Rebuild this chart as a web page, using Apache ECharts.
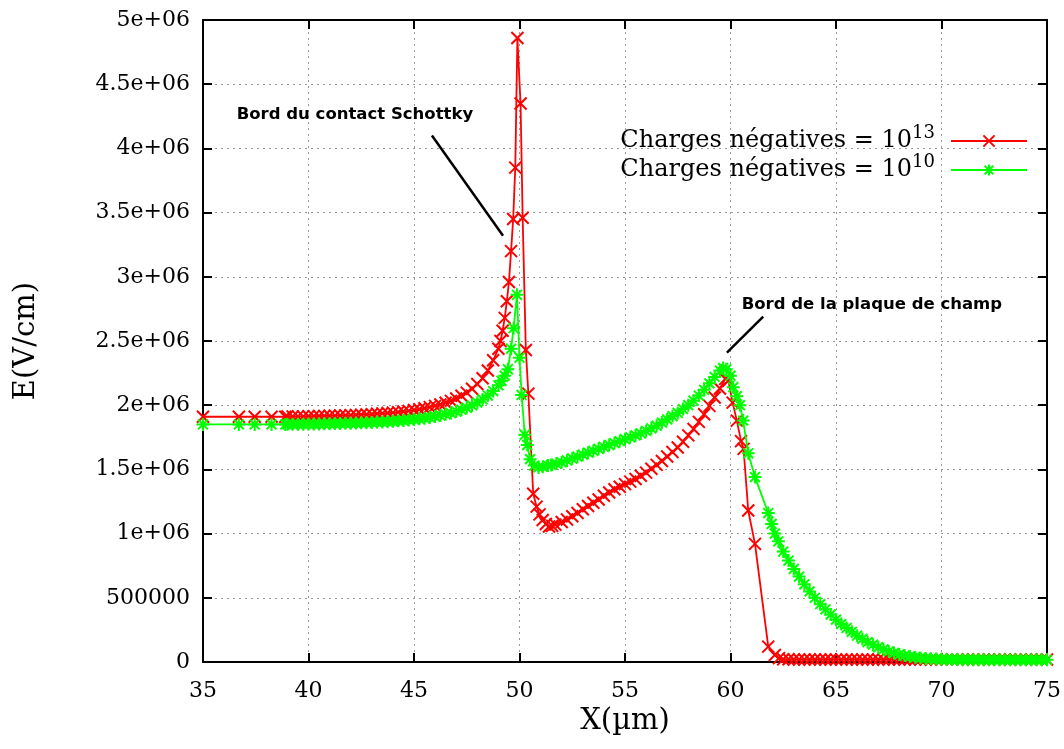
<!DOCTYPE html>
<html>
<head>
<meta charset="utf-8">
<script src="https://cdn.jsdelivr.net/npm/echarts@6/dist/echarts.min.js"></script>
<style>html,body{margin:0;padding:0;background:#fff}#c{width:1064px;height:749px}</style>
</head>
<body>
<div id="c"></div>
<script>
// ---------------- data ----------------
const xTicks = [35, 40, 45, 50, 55, 60, 65, 70, 75];
const yTickLabels = ['0','500000','1e+06','1.5e+06','2e+06','2.5e+06','3e+06','3.5e+06','4e+06','4.5e+06','5e+06'];
const seriesNames = ['Charges négatives = 10^13', 'Charges négatives = 10^10'];

const xRed = [35, 36.7, 37.45, 38.25, 38.9,
  39.0, 39.25, 39.5, 39.75, 40.0, 40.25, 40.5, 40.75, 41.0, 41.25, 41.5, 41.75, 42.0, 42.25, 42.5, 42.75,
  43.0, 43.25, 43.5, 43.75, 44.0, 44.25, 44.5, 44.75, 45.0, 45.25, 45.5, 45.75, 46.0, 46.25, 46.5, 46.75,
  47.0, 47.25, 47.5, 47.75, 48.0, 48.25, 48.5, 48.75, 49.0,
  49.1, 49.2, 49.3, 49.4, 49.5, 49.6, 49.7, 49.8, 49.9, 50.05, 50.15, 50.3, 50.42, 50.65, 50.81, 50.95,
  51.1, 51.25, 51.4, 51.55, 51.7,
  52.0, 52.25, 52.5, 52.75, 53.0, 53.25, 53.5, 53.75, 54.0, 54.25, 54.5, 54.75, 55.0, 55.25, 55.5, 55.75,
  56.0, 56.25, 56.5, 56.75, 57.0, 57.25, 57.5, 57.75, 58.0, 58.25, 58.5, 58.75, 59.0, 59.25, 59.5, 59.75,
  59.9, 60.1, 60.3, 60.5, 60.62, 60.84, 61.16, 61.79, 62.1, 62.3,
  62.5, 62.75, 63.0, 63.25, 63.5, 63.75, 64.0, 64.25, 64.5, 64.75, 65.0, 65.25, 65.5, 65.75,
  66.0, 66.25, 66.5, 66.75, 67.0, 67.25, 67.5, 67.75, 68.0, 68.25, 68.5, 68.75, 69.0, 69.25, 69.5, 69.75,
  70.0, 70.25, 70.5, 70.75, 71.0, 71.25, 71.5, 71.75, 72.0, 72.25, 72.5, 72.75, 73.0, 73.25, 73.5, 73.75,
  74.0, 74.25, 74.5, 74.75, 75.0];
const yRed = [1.91e6, 1.91e6, 1.91e6, 1.91e6, 1.91e6,
  1.912e6, 1.912e6, 1.913e6, 1.913e6, 1.914e6, 1.915e6, 1.916e6, 1.917e6, 1.918e6, 1.919e6, 1.920e6, 1.921e6, 1.923e6, 1.924e6, 1.926e6, 1.928e6,
  1.930e6, 1.933e6, 1.936e6, 1.939e6, 1.942e6, 1.946e6, 1.951e6, 1.956e6, 1.962e6, 1.968e6, 1.976e6, 1.985e6, 1.995e6, 2.006e6, 2.019e6, 2.034e6,
  2.052e6, 2.073e6, 2.098e6, 2.128e6, 2.165e6, 2.21e6, 2.27e6, 2.35e6, 2.44e6,
  2.50e6, 2.58e6, 2.68e6, 2.81e6, 2.96e6, 3.20e6, 3.45e6, 3.85e6, 4.86e6, 4.35e6, 3.46e6, 2.43e6, 2.09e6, 1.31e6, 1.21e6, 1.15e6,
  1.106e6, 1.075e6, 1.055e6, 1.06e6, 1.07e6,
  1.09e6, 1.11e6, 1.135e6, 1.16e6, 1.19e6, 1.215e6, 1.24e6, 1.265e6, 1.295e6, 1.32e6, 1.345e6, 1.365e6, 1.385e6, 1.405e6, 1.425e6, 1.45e6,
  1.475e6, 1.505e6, 1.535e6, 1.565e6, 1.60e6, 1.635e6, 1.67e6, 1.715e6, 1.765e6, 1.815e6, 1.87e6, 1.93e6, 1.995e6, 2.06e6, 2.13e6, 2.205e6,
  2.19e6, 2.02e6, 1.88e6, 1.72e6, 1.66e6, 1.18e6, 0.92e6, 0.12e6, 0.055e6, 0.03e6,
  0.022e6, 0.021e6, 0.02e6, 0.02e6, 0.02e6, 0.02e6, 0.02e6, 0.02e6, 0.02e6, 0.02e6, 0.02e6, 0.02e6, 0.02e6, 0.02e6,
  0.02e6, 0.02e6, 0.02e6, 0.02e6, 0.02e6, 0.02e6, 0.02e6, 0.02e6, 0.02e6, 0.02e6, 0.02e6, 0.02e6, 0.02e6, 0.02e6, 0.02e6, 0.02e6,
  0.02e6, 0.02e6, 0.02e6, 0.02e6, 0.02e6, 0.02e6, 0.02e6, 0.02e6, 0.02e6, 0.02e6, 0.02e6, 0.02e6, 0.02e6, 0.02e6, 0.02e6, 0.02e6,
  0.02e6, 0.02e6, 0.02e6, 0.02e6, 0.02e6];

const xGreen = [35, 36.7, 37.45, 38.25, 38.9,
  39.0, 39.25, 39.5, 39.75, 40.0, 40.25, 40.5, 40.75, 41.0, 41.25, 41.5, 41.75, 42.0, 42.25, 42.5, 42.75,
  43.0, 43.25, 43.5, 43.75, 44.0, 44.25, 44.5, 44.75, 45.0, 45.25, 45.5, 45.75, 46.0, 46.25, 46.5, 46.75,
  47.0, 47.25, 47.5, 47.75, 48.0, 48.25, 48.5, 48.75, 49.0,
  49.15, 49.3, 49.45, 49.6, 49.72, 49.88, 50.0, 50.1, 50.25, 50.37, 50.5, 50.7, 50.9, 51.1, 51.35,
  51.5, 51.75, 52.0, 52.25, 52.5, 52.75, 53.0, 53.25, 53.5, 53.75, 54.0, 54.25, 54.5, 54.75, 55.0, 55.25,
  55.5, 55.75, 56.0, 56.25, 56.5, 56.75, 57.0, 57.25, 57.5, 57.75, 58.0, 58.25, 58.5, 58.75, 59.0, 59.25,
  59.5, 59.65, 59.8, 60.0, 60.13, 60.3, 60.45, 60.6, 60.84, 61.16, 61.79, 61.95, 62.1, 62.27,
  62.5, 62.75, 63.0, 63.25, 63.5, 63.75, 64.0, 64.25, 64.5, 64.75, 65.0, 65.25, 65.5, 65.75,
  66.0, 66.25, 66.5, 66.75, 67.0, 67.25, 67.5, 67.75, 68.0, 68.25, 68.5, 68.75, 69.0, 69.25, 69.5, 69.75,
  70.0, 70.25, 70.5, 70.75, 71.0, 71.25, 71.5, 71.75, 72.0, 72.25, 72.5, 72.75, 73.0, 73.25, 73.5, 73.75,
  74.0, 74.25, 74.5, 74.75, 75.0];
const yGreen = [1.85e6, 1.85e6, 1.85e6, 1.85e6, 1.85e6,
  1.851e6, 1.851e6, 1.852e6, 1.852e6, 1.853e6, 1.853e6, 1.854e6, 1.855e6, 1.856e6, 1.857e6, 1.858e6, 1.859e6, 1.860e6, 1.861e6, 1.863e6, 1.864e6,
  1.866e6, 1.868e6, 1.870e6, 1.872e6, 1.875e6, 1.878e6, 1.881e6, 1.885e6, 1.889e6, 1.894e6, 1.899e6, 1.905e6, 1.912e6, 1.920e6, 1.929e6, 1.939e6,
  1.951e6, 1.965e6, 1.98e6, 1.998e6, 2.02e6, 2.045e6, 2.075e6, 2.11e6, 2.155e6,
  2.19e6, 2.23e6, 2.28e6, 2.44e6, 2.6e6, 2.86e6, 2.37e6, 2.08e6, 1.77e6, 1.69e6, 1.58e6, 1.53e6, 1.515e6, 1.52e6, 1.53e6,
  1.535e6, 1.545e6, 1.555e6, 1.57e6, 1.585e6, 1.60e6, 1.615e6, 1.63e6, 1.645e6, 1.66e6, 1.675e6, 1.69e6, 1.705e6, 1.72e6, 1.735e6, 1.75e6,
  1.765e6, 1.78e6, 1.80e6, 1.82e6, 1.84e6, 1.865e6, 1.89e6, 1.915e6, 1.94e6, 1.97e6, 2.0e6, 2.035e6, 2.075e6, 2.12e6, 2.17e6, 2.22e6,
  2.27e6, 2.29e6, 2.28e6, 2.23e6, 2.14e6, 2.07e6, 2.0e6, 1.88e6, 1.625e6, 1.44e6, 1.16e6, 1.075e6, 1.0e6, 0.94e6,
  0.86e6, 0.79e6, 0.725e6, 0.665e6, 0.605e6, 0.55e6, 0.50e6, 0.45e6, 0.41e6, 0.37e6, 0.33e6, 0.295e6, 0.265e6, 0.235e6,
  0.205e6, 0.18e6, 0.155e6, 0.135e6, 0.115e6, 0.098e6, 0.083e6, 0.07e6, 0.059e6, 0.05e6, 0.043e6, 0.037e6, 0.032e6, 0.028e6, 0.025e6, 0.023e6,
  0.021e6, 0.02e6, 0.019e6, 0.019e6, 0.018e6, 0.018e6, 0.018e6, 0.018e6, 0.017e6, 0.017e6, 0.017e6, 0.017e6, 0.017e6, 0.017e6, 0.017e6, 0.017e6,
  0.017e6, 0.017e6, 0.017e6, 0.017e6, 0.017e6];

// annotations (data coordinates)
const annotSchottky = {text: 'Bord du contact Schottky', at: [42.2, 4.265e6], from: [45.85, 4.1e6], to: [49.22, 3.32e6]};
const annotPlaque = {text: 'Bord de la plaque de champ', at: [66.7, 2.785e6], from: [61.55, 2.69e6], to: [59.83, 2.41e6]};

// ---------------- chart ----------------
const SERIF = '"DejaVu Serif", "Liberation Serif", serif';
const pairs = (xs, ys) => xs.map((x, i) => [x, ys[i]]);
const CROSS = 'path://M0 0L10 10M10 0L0 10';
const STAR = 'path://M5 0L5 10M0 5L10 5M1.2 1.2L8.8 8.8M8.8 1.2L1.2 8.8';

const chart = echarts.init(document.getElementById('c'), null, {renderer: 'canvas'});

const axisCommon = {
  axisLine: {show: true, onZero: false, lineStyle: {color: '#000', width: 2}},
  axisTick: {show: true, inside: true, length: 9, lineStyle: {color: '#000', width: 2}},
};

const option = {
  backgroundColor: '#fff',
  animation: false,
  grid: {left: 203, right: 17, top: 20, bottom: 87, containLabel: false},
  legend: {
    right: 36, top: 124, orient: 'vertical', align: 'right', padding: 0,
    itemWidth: 76, itemHeight: 14, itemGap: -5,
    data: seriesNames,
    formatter: function (name) {
      const parts = name.split('^');
      return '{t|' + parts[0] + '}{s|' + parts[1] + '}';
    },
    textStyle: {
      rich: {
        t: {fontFamily: SERIF, fontSize: 24, color: '#000', lineHeight: 28},
        s: {fontFamily: SERIF, fontSize: 18, color: '#000', lineHeight: 28, padding: [0, 11, 16, 0]}
      }
    }
  },
  xAxis: [
    Object.assign({
      type: 'value', min: 35, max: 75, interval: 5, position: 'bottom',
      name: 'X(µm)', nameLocation: 'middle', nameGap: 45,
      nameTextStyle: {fontFamily: SERIF, fontSize: 29, color: '#000'},
      axisLabel: {fontFamily: SERIF, fontSize: 22, color: '#000', margin: 18,
        formatter: v => String(xTicks[xTicks.indexOf(v)])},
      splitLine: {show: true, lineStyle: {color: '#999', type: [2, 4], width: 1}}
    }, axisCommon),
    Object.assign({
      type: 'value', min: 35, max: 75, interval: 5, position: 'top',
      axisLabel: {show: false}, splitLine: {show: false}
    }, axisCommon)
  ],
  yAxis: [
    Object.assign({
      type: 'value', min: 0, max: 5e6, interval: 5e5, position: 'left',
      name: 'E(V/cm)', nameLocation: 'middle', nameGap: 162, nameRotate: 90,
      nameTextStyle: {fontFamily: SERIF, fontSize: 29, color: '#000'},
      axisLabel: {fontFamily: SERIF, fontSize: 22, color: '#000', margin: 13,
        formatter: v => yTickLabels[Math.round(v / 5e5)]},
      splitLine: {show: true, lineStyle: {color: '#999', type: [2, 4], width: 1}}
    }, axisCommon),
    Object.assign({
      type: 'value', min: 0, max: 5e6, interval: 5e5, position: 'right',
      axisLabel: {show: false}, splitLine: {show: false}
    }, axisCommon)
  ],
  series: [
    {
      name: seriesNames[0], type: 'line', data: pairs(xRed, yRed),
      symbol: CROSS, symbolSize: 12, showAllSymbol: true,
      lineStyle: {color: '#ff0000', width: 1.8},
      itemStyle: {color: 'rgba(0,0,0,0)', borderColor: '#ff0000', borderWidth: 2},
      z: 3
    },
    {
      name: seriesNames[1], type: 'line', data: pairs(xGreen, yGreen),
      symbol: STAR, symbolSize: 13, showAllSymbol: true,
      lineStyle: {color: '#00ff00', width: 1.8},
      itemStyle: {color: 'rgba(0,0,0,0)', borderColor: '#00ff00', borderWidth: 2},
      z: 4
    }
  ]
};
chart.setOption(option);

function annot(a) {
  const p = chart.convertToPixel({gridIndex: 0}, a.at);
  const f = chart.convertToPixel({gridIndex: 0}, a.from);
  const t = chart.convertToPixel({gridIndex: 0}, a.to);
  return [
    {type: 'text', x: p[0], y: p[1], z: 10,
      style: {text: a.text, fontFamily: '"DejaVu Sans", sans-serif', fontWeight: 'bold', fontSize: 16.5,
        fill: '#000', align: 'center', verticalAlign: 'middle'}},
    {type: 'line', z: 10, shape: {x1: f[0], y1: f[1], x2: t[0], y2: t[1]},
      style: {stroke: '#000', lineWidth: 2.5}}
  ];
}
chart.setOption({graphic: annot(annotSchottky).concat(annot(annotPlaque))});
</script>
</body>
</html>
